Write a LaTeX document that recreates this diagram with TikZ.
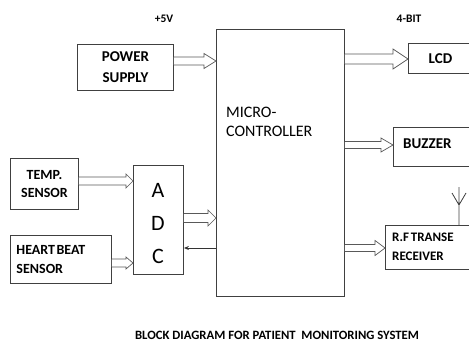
\documentclass[tikz,border=0pt]{standalone}
\usepackage{fontspec}
\setmainfont{Carlito}
\usetikzlibrary{calc,arrows.meta}
\tikzset{
  box/.style={draw=black!75, line width=0.9pt, anchor=north west, inner sep=0pt,
    font=\bfseries\fontsize{15}{21}\selectfont, align=center},
  harrow/.style={draw=black!65, line width=0.7pt, fill=white},
  txt/.style={inner sep=0pt, font=\bfseries\fontsize{15}{20}\selectfont, align=left},
  lbl/.style={inner sep=0pt, font=\bfseries\fontsize{11.5}{13}\selectfont},
}
\newcommand\harr[6]{\draw[harrow] let \p1=(#1), \p2=(#2), \p3=(0,#3) in
  (\x1,\y3+#4pt) -- (\x2-#6pt,\y3+#4pt) -- (\x2-#6pt,\y3+#5pt) -- (\x2,\y3)
  -- (\x2-#6pt,\y3-#5pt) -- (\x2-#6pt,\y3-#4pt) -- (\x1,\y3-#4pt);}
\begin{document}
\begin{tikzpicture}[x=1pt,y=-1pt]
\useasboundingbox (0,0) rectangle (469,345);
% boxes
\node[box, minimum width=96pt, minimum height=46pt] (pow) at (77,44) {POWER\\SUPPLY};
\node[box, minimum width=128pt, minimum height=267pt] (mc) at (216,29) {};
\node[txt, anchor=west, font=\fontsize{16}{19}\selectfont] (mctxt) at (226,122) {MICRO-\\CONTROLLER};
\node[box, minimum width=64pt, minimum height=30pt] (lcd) at (408,43) {LCD};
\node[box, minimum width=80pt, minimum height=39pt] (buz) at (393,127) {};
\node[txt, anchor=west] (buztxt) at (403,144) {BUZZER};
\node[box, minimum width=68pt, minimum height=51pt, font=\bfseries\fontsize{14}{18}\selectfont] (temp) at (10,158) {TEMP.\\SENSOR};
\node[box, minimum width=101pt, minimum height=48pt, text width=89pt, inner xsep=6pt, align=left,
  font=\bfseries\fontsize{14}{19}\selectfont] (hb) at (10,235) {HEART\hspace{0.1em}BEAT\\SENSOR};
\node[box, minimum width=50pt, minimum height=109pt] (adc) at (133,165) {};
\node[inner sep=0pt, font=\fontsize{22}{33}\selectfont, align=center] (adctxt) at (158,224) {A\\D\\C};
\node[box, minimum width=90pt, minimum height=44pt] (rf) at (385,225) {};
\node[txt, anchor=west, font=\bfseries\fontsize{13}{19}\selectfont] (rftxt) at (392,247) {R.F\hspace{0.15em}TRANSE\\RECEIVER};
% antenna
\coordinate (antb) at (459,225);
\coordinate (antt) at (459,187);
\coordinate (antj) at (459,205);
\coordinate (antl) at (452,193);
\coordinate (antr) at (466,193);
\draw[black!75, line width=0.8pt] (antb) -- (antt) (antl) -- (antj) -- (antr);
% labels
\node[lbl] (v5) at (164,19) {+5V};
\node[lbl] (bit) at (409,19) {4-BIT};
\node[inner sep=0pt, font=\bfseries\fontsize{12.7}{14}\selectfont] (title) at (277,335) {BLOCK DIAGRAM FOR PATIENT\ \ MONITORING SYSTEM};
% arrows
\harr{pow.east}{mc.west}{61}{4}{7.5}{12}
\harr{mc.east}{lcd.west}{59}{5}{10}{15}
\harr{mc.east}{buz.west}{145}{3.5}{7}{12}
\harr{mc.east}{rf.west}{248}{3.5}{7.5}{10}
\harr{temp.east}{adc.west}{181}{4}{7}{7}
\harr{hb.east}{adc.west}{263}{4}{6}{7}
\harr{adc.east}{mc.west}{218}{4.5}{8}{8}
\draw[black!80, line width=0.8pt, -{Stealth[length=5pt,width=4pt]}] (mc.west |- 0,248) -- (adc.east |- 0,248);
\end{tikzpicture}
\end{document}
